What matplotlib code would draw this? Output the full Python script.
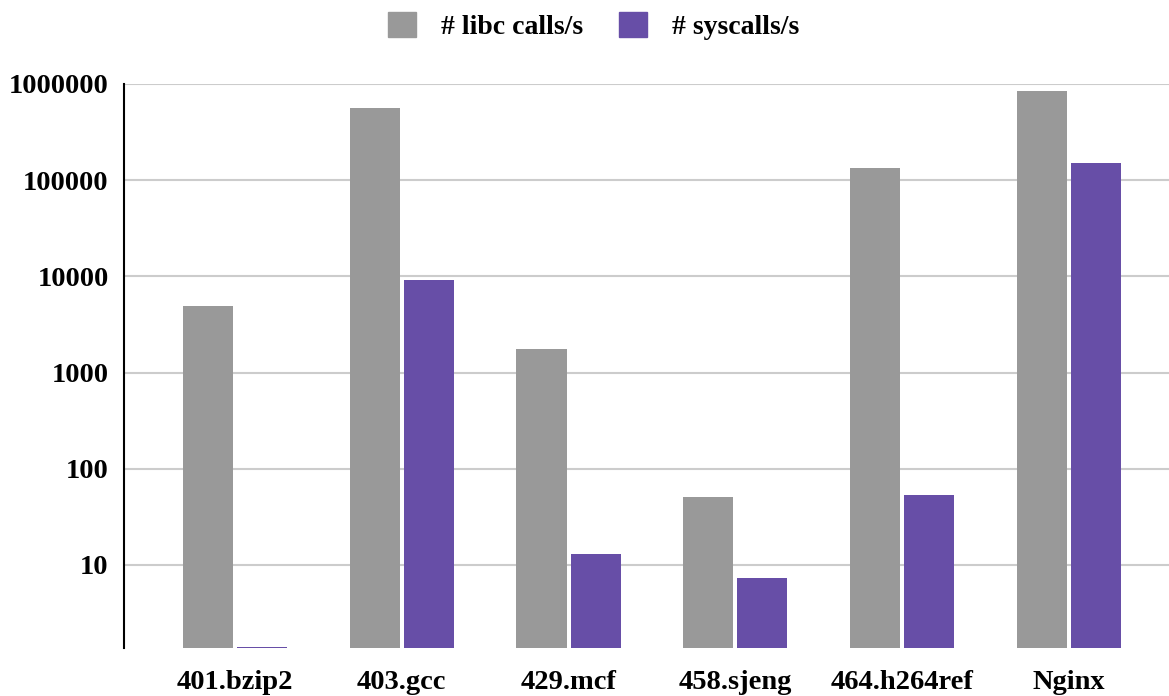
import numpy as np
import matplotlib
matplotlib.use("Agg")
import matplotlib.pyplot as plt
from matplotlib.patches import Patch

categories = ["401.bzip2", "403.gcc", "429.mcf", "458.sjeng", "464.h264ref", "Nginx"]
libc_calls = [4900, 560000, 1740, 51, 133000, 840000]
syscalls = [1.4, 9100, 13, 7.3, 54, 150000]
yticks = [10, 100, 1000, 10000, 100000, 1000000]

gray = "#999999"
purple = "#674ea7"

plt.rcParams["font.family"] = ["Liberation Serif", "DejaVu Serif"]
plt.rcParams["font.weight"] = "bold"

fig = plt.figure(figsize=(11.69, 6.96), dpi=100)
ax = fig.add_axes([124 / 1169, 1 - 648 / 696, 1 - 124 / 1169, (648 - 84) / 696])

x = np.arange(len(categories))
w = 0.3
ax.bar(x - w / 2 - 0.012, libc_calls, w, color=gray, zorder=3)
ax.bar(x + w / 2 + 0.012, syscalls, w, color=purple, zorder=3)

ax.set_yscale("log")
ax.set_ylim(10 ** 0.137, 1e6)
ax.set_xlim(-0.665, 5.6)
ax.set_yticks(yticks)
ax.set_yticklabels([str(v) for v in yticks])
ax.yaxis.set_minor_locator(matplotlib.ticker.NullLocator())
ax.set_xticks(x)
ax.set_xticklabels(categories)
ax.tick_params(axis="both", length=0, labelsize=20.5)
ax.tick_params(axis="y", pad=11)
ax.tick_params(axis="x", pad=16)
for lab in ax.get_xticklabels() + ax.get_yticklabels():
    lab.set_fontweight("bold")

ax.grid(axis="y", color="#cccccc", linewidth=1.5, zorder=0)
for s in ["top", "right", "bottom"]:
    ax.spines[s].set_visible(False)
ax.spines["left"].set_linewidth(1.5)
ax.spines["left"].set_color("black")

handles = [Patch(color=gray, label="# libc calls/s"), Patch(color=purple, label="# syscalls/s")]
fig.legend(handles=handles, loc="center", bbox_to_anchor=(0.508, 1 - 26 / 696), ncol=2,
           frameon=False, prop={"weight": "bold", "size": 20},
           handlelength=1.0, handleheight=1.0, columnspacing=1.3, handletextpad=0.9)

fig.savefig("out.png", dpi=100)
